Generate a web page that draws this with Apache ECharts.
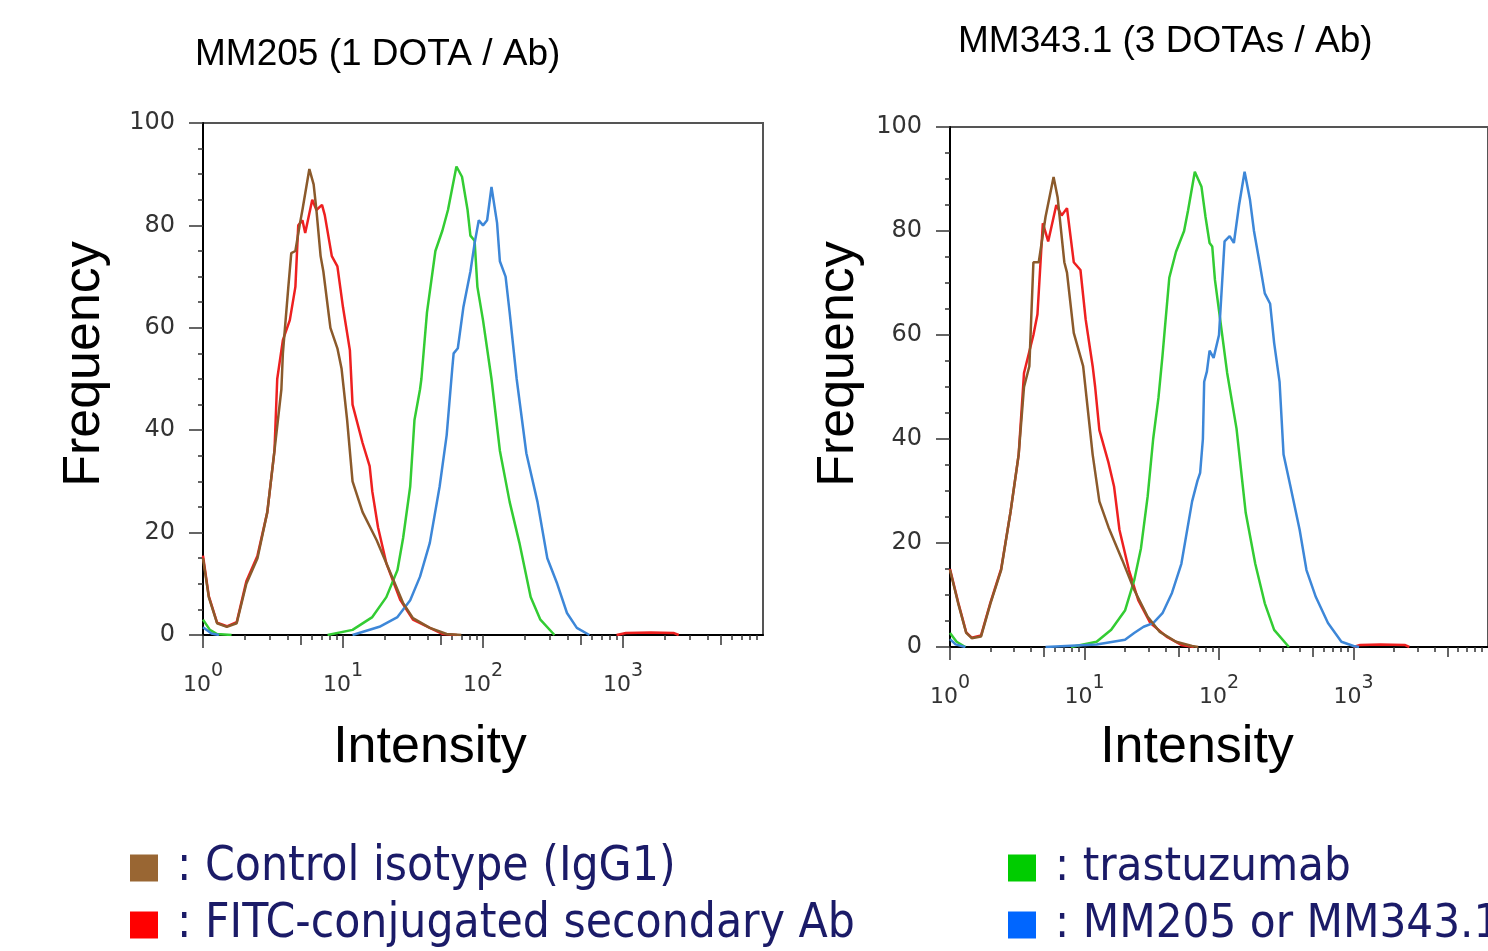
<!DOCTYPE html>
<html>
<head>
<meta charset="utf-8">
<script src="https://cdn.jsdelivr.net/npm/echarts@6/dist/echarts.min.js"></script>
<style>
html,body{margin:0;padding:0;background:#fff;}
#chart{width:1488px;height:951px;}
</style>
</head>
<body>
<div id="chart"></div>
<script>
// ---- Data (intensity, frequency) ----
const seriesNames = ['Control isotype (IgG1)', 'FITC-conjugated secondary Ab', 'trastuzumab', 'MM205 or MM343.1'];
const panelTitles = ['MM205 (1 DOTA / Ab)', 'MM343.1 (3 DOTAs / Ab)'];
const xAxisTitle = 'Intensity';
const yAxisTitle = 'Frequency';
const yTickValues = [0, 20, 40, 60, 80, 100];
const decadeExponents = [0, 1, 2, 3];
const minorMultipliers = [2, 3, 4, 6, 7, 8, 9];
const halfMultipliers = [5];

const mm205Control = [[1,15],[1.10,7.4],[1.26,2.3],[1.48,1.6],[1.74,2.3],[2.04,10],[2.45,15],[2.88,24],[3.24,36],[3.63,48],[3.72,55],[4.07,68],[4.27,74.6],[4.57,75],[4.90,80],[5.13,83],[5.75,91],[6.17,88],[6.46,83],[6.92,74],[7.24,71],[8.13,60],[9.12,56],[9.77,52],[10.7,42],[11.7,30],[13.8,24],[17.4,18.5],[21.9,12],[26.9,6.2],[31.6,3.3],[41.7,1.4],[55.0,0.2],[70,0]];
const mm205Fitc = [[1,15.5],[1.10,7.6],[1.26,2.4],[1.48,1.7],[1.74,2.5],[2.04,10.5],[2.45,15.5],[2.88,24],[3.24,36],[3.39,50],[3.72,57.6],[4.17,61.5],[4.57,68],[4.79,80],[5.13,81],[5.37,78.5],[6.03,85],[6.46,83],[7.08,84],[7.41,82],[8.32,74],[9.12,72],[10,64],[11.2,55.6],[11.7,45],[13.8,37.5],[15.5,33],[16.2,28],[17.8,21],[20.4,14],[25.7,6.8],[31.6,3],[41.7,1.4],[51.3,0.2],[65,0],['-','-'],[900,0],[1050,0.4],[1585,0.5],[2291,0.4],[2500,0]];
const mm205Trastuzumab = [[1,3],[1.12,1],[1.26,0.2],[1.6,0],['-','-'],[7.76,0],[11.7,1],[16.2,3.5],[20.4,7.4],[24.5,12.7],[26.9,19],[30.2,29],[32.4,42],[35.5,48],[36.3,50],[39.8,63],[45.7,75],[51.3,79],[56.2,83],[64.6,91.5],[70.8,89.5],[77.6,83],[81.3,78],[87.1,77],[91.2,68],[100,61.5],[115,50],[132,36],[155,26],[182,18],[219,7.4],[257,3],[324,0]];
const mm205Antibody = [[1,1.5],[1.15,0.3],[1.3,0],['-','-'],[11.7,0],[18.2,1.6],[24.5,3.5],[30.2,6.8],[35.5,11.4],[41.7,18],[49.0,29],[55.0,39],[60.3,52],[61.7,55],[66.1,56],[72.4,64],[81.3,71],[87.1,76.5],[93.3,81],[100,80],[107,81],[115,87.5],[126,80.5],[132,73],[145,70],[155,63],[174,50],[204,35.5],[245,26],[288,15],[339,10],[398,4.3],[468,1.4],[575,0]];

const mm343Control = [[1,14.8],[1.15,8.4],[1.32,2.7],[1.45,1.7],[1.70,2],[2.00,8.4],[2.40,14.8],[2.82,26],[3.24,37],[3.55,50],[3.89,54],[4.17,74],[4.57,74],[5.13,82.7],[5.89,90.4],[6.31,86.5],[7.08,74],[7.41,72],[8.32,60.4],[9.77,54],[11.5,37],[12.9,28],[15.1,23],[19.1,16.7],[23.4,11],[29.5,5.8],[36.3,2.9],[47.9,1],[63.1,0.2],[70,0]];
const mm343Fitc = [[1,15],[1.15,8.6],[1.32,2.8],[1.45,1.8],[1.70,2.2],[2.00,8.6],[2.40,15],[2.82,26],[3.24,37],[3.55,52.7],[4.17,60],[4.47,64],[4.90,81.5],[5.37,78],[6.17,85],[6.76,83],[7.41,84.4],[8.32,74],[9.33,72.5],[10.2,63],[11.5,54],[12.0,50],[12.9,41.7],[15.1,35.4],[16.6,30.8],[18.2,22.5],[21.4,14.8],[25.1,9],[30.9,4.6],[40.7,2],[52.5,0.4],[65,0],['-','-'],[1000,0],[1122,0.4],[1585,0.5],[2399,0.4],[2600,0]];
const mm343Trastuzumab = [[1,2.7],[1.12,1],[1.3,0],['-','-'],[7.94,0],[12.3,1],[15.8,3.3],[20.0,7],[23.4,12.8],[26.3,19],[29.5,29],[32.4,40],[35.5,48],[38.0,56],[39.8,62],[42.7,71],[47.9,76],[55.0,80],[58.9,84],[66.1,91.4],[74.1,88.5],[79.4,82.7],[85.1,77.7],[89.1,77],[93.3,70.6],[102,63],[115,52.7],[135,42],[158,25.8],[186,16],[219,8.4],[257,3.3],[331,0]];
const mm343Antibody = [[1,1.5],[1.1,0.5],[1.3,0],['-','-'],[5.13,0],[12.3,0.5],[20.0,1.4],[23.4,2.7],[27.5,3.9],[32.4,4.6],[38.0,6.5],[44.7,10.4],[52.5,16],[63.1,28],[69.2,32],[72.4,33.5],[75.9,40],[77.6,51],[81.3,53],[85.1,57],[91.2,55.6],[100,60],[110,78],[120,79],[129,77.7],[141,85],[155,91.4],[170,86],[182,80],[200,74],[219,68],[240,66],[257,58.5],[282,51],[302,37],[339,31],[398,22.5],[447,14.8],[525,9.6],[646,4.6],[813,1],[1000,0.2],[1100,0]];

// ---- Styles ----
const lineColors = ['#8b5a2b', '#ee2020', '#33cc33', '#3d87d8'];
const legendColors = ['#996633', '#ff0000', '#00cc00', '#0066ff'];
const tickFont = 'DejaVu Sans';
const titleFont = 'Liberation Sans';
const legendFont = 'DejaVu Sans Condensed';

const panels = [
  {grid: {left: 203, top: 123, width: 560, height: 512}, data: [mm205Control, mm205Fitc, mm205Trastuzumab, mm205Antibody],
   xNameGap: 87, xNamePad: 106, yNameGap: 92, yNamePad: 30, title: {left: 190, top: 31}},
  {grid: {left: 950, top: 127, width: 564, height: 520}, data: [mm343Control, mm343Fitc, mm343Trastuzumab, mm343Antibody],
   xNameGap: 75, xNamePad: 44, yNameGap: 85, yNamePad: 46, title: {left: 953, top: 18}}
];

const logPositions = mults => decadeExponents.flatMap(d => mults.map(m => d + Math.log10(m)));

const grids = [], xAxes = [], yAxes = [], series = [], titles = [];
panels.forEach((p, gi) => {
  grids.push(Object.assign({show: true, borderColor: '#555', borderWidth: 2, backgroundColor: 'transparent', containLabel: false}, p.grid));
  titles.push({text: panelTitles[gi], left: p.title.left, top: p.title.top,
    textStyle: {fontFamily: titleFont, fontSize: 37, fontWeight: 'normal', color: '#000'}});
  const xi = xAxes.length;
  xAxes.push({
    type: 'log', logBase: 10, min: 1, max: 10000, gridIndex: gi, position: 'bottom',
    name: xAxisTitle, nameLocation: 'middle', nameGap: p.xNameGap,
    nameTextStyle: {fontFamily: titleFont, fontSize: 52, color: '#000', padding: [0, p.xNamePad, 0, 0]},
    axisLine: {show: true, lineStyle: {color: '#000', width: 2}},
    axisTick: {show: true, length: 13, lineStyle: {color: '#333', width: 1.5}},
    minorTick: {show: false},
    splitLine: {show: false},
    axisLabel: {
      margin: 27, showMaxLabel: false,
      formatter: v => '{b|10}{s|' + Math.round(Math.log10(v)) + '}',
      rich: {
        b: {fontFamily: tickFont, fontSize: 22, color: '#333', lineHeight: 34, verticalAlign: 'bottom'},
        s: {fontFamily: tickFont, fontSize: 19, color: '#333', lineHeight: 16, verticalAlign: 'top'}
      }
    }
  });
  [[minorMultipliers, 5], [halfMultipliers, 10]].forEach(([mults, len]) => {
    xAxes.push({
      type: 'value', min: 0, max: 4, gridIndex: gi, position: 'bottom', silent: true,
      axisLine: {show: false}, axisLabel: {show: false}, splitLine: {show: false},
      axisTick: {show: true, length: len, customValues: logPositions(mults), lineStyle: {color: '#333', width: 1.5}}
    });
  });
  yAxes.push({
    type: 'value', min: 0, max: 100, interval: 20, gridIndex: gi,
    name: yAxisTitle, nameLocation: 'middle', nameGap: p.yNameGap, nameRotate: 90,
    nameTextStyle: {fontFamily: titleFont, fontSize: 52, color: '#000', padding: [0, 0, 0, p.yNamePad]},
    axisLine: {show: true, lineStyle: {color: '#000', width: 2}},
    axisTick: {show: true, length: 14, lineStyle: {color: '#333', width: 1.5}},
    minorTick: {show: true, splitNumber: 4, length: 5, lineStyle: {color: '#333', width: 1.5}},
    splitLine: {show: false},
    axisLabel: {margin: 28, fontFamily: tickFont, fontSize: 24, color: '#333',
      customValues: yTickValues}
  });
  p.data.forEach((d, si) => {
    series.push({
      name: seriesNames[si], type: 'line', xAxisIndex: xi, yAxisIndex: gi,
      data: d, showSymbol: false, symbol: 'none', connectNulls: false,
      lineStyle: {color: lineColors[si], width: 2.5}, itemStyle: {color: lineColors[si]},
      z: si === 0 ? 4 : 3
    });
  });
});

const legendPositions = [{left: 125, top: 835, size: 47.5}, {left: 125, top: 892, size: 47.5}, {left: 1003, top: 835, size: 47}, {left: 1003, top: 892, size: 47}];
const legends = seriesNames.map((name, i) => ({
  left: legendPositions[i].left, top: legendPositions[i].top,
  orient: 'vertical', icon: 'rect', itemWidth: 28, itemHeight: 27, selectedMode: false,
  formatter: n => ': ' + n,
  textStyle: {fontFamily: legendFont, fontSize: legendPositions[i].size, color: '#1b1b68', lineHeight: 50, padding: [6, 0, 0, 14]},
  data: [{name: name, itemStyle: {color: legendColors[i], borderWidth: 0}}]
}));

const option = {
  animation: false,
  backgroundColor: '#fff',
  title: titles,
  grid: grids,
  xAxis: xAxes,
  yAxis: yAxes,
  legend: legends,
  series: series
};

const chart = echarts.init(document.getElementById('chart'), null, {renderer: 'canvas'});
chart.setOption(option);
</script>
</body>
</html>
